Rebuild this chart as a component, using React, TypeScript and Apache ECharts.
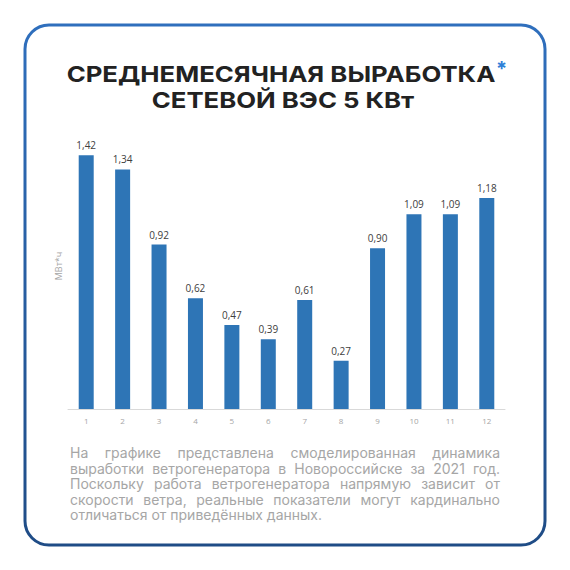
import { useEffect, useRef } from 'react';
import * as echarts from 'echarts';

const months = ['1', '2', '3', '4', '5', '6', '7', '8', '9', '10', '11', '12'];
const output = [1.42, 1.34, 0.92, 0.62, 0.47, 0.39, 0.61, 0.27, 0.9, 1.09, 1.09, 1.18];
const titleLines = ['СРЕДНЕМЕСЯЧНАЯ ВЫРАБОТКА', 'СЕТЕВОЙ ВЭС 5 КВт'];
const unitLabel = 'МВт*ч';
const noteLines = [
  'На графике представлена смоделированная динамика',
  'выработки ветрогенератора в Новороссийске за 2021 год.',
  'Поскольку работа ветрогенератора напрямую зависит от',
  'скорости ветра, реальные показатели могут кардинально',
  'отличаться от приведённых данных.'
];

export default function App() {
  const chartRef = useRef<HTMLDivElement>(null);

  useEffect(() => {
    if (!chartRef.current) return;
    const chart = echarts.init(chartRef.current, null, { renderer: 'svg' });

    const option: echarts.EChartsOption = {
      animation: false,
      backgroundColor: '#ffffff',
      graphic: [
        {
          type: 'rect',
          shape: { x: 25, y: 25, width: 520, height: 520, r: 24 },
          style: {
            fill: 'none',
            lineWidth: 3,
            stroke: new echarts.graphic.LinearGradient(0, 0, 0, 1, [
              { offset: 0, color: '#2f6fbd' },
              { offset: 1, color: '#1f4c86' }
            ])
          }
        },
        {
          type: 'text',
          x: 281,
          y: 74,
          scaleX: 1.17,
          style: {
            text: titleLines[0],
            align: 'center',
            verticalAlign: 'middle',
            fontFamily: 'Inter',
            fontWeight: 700,
            fontSize: 22,
            fill: '#222222'
          }
        },
        {
          type: 'text',
          x: 496,
          y: 69,
          style: {
            text: '*',
            align: 'left',
            verticalAlign: 'middle',
            fontFamily: 'Inter',
            fontWeight: 700,
            fontSize: 20,
            fill: '#2f7fd8'
          }
        },
        {
          type: 'text',
          x: 283,
          y: 100,
          scaleX: 1.17,
          style: {
            text: titleLines[1],
            align: 'center',
            verticalAlign: 'middle',
            fontFamily: 'Inter',
            fontWeight: 700,
            fontSize: 22,
            fill: '#222222'
          }
        }
      ],
      grid: { left: 68, right: 65, top: 123, bottom: 161 },
      xAxis: {
        type: 'category',
        data: months,
        axisLine: { lineStyle: { color: '#d9d9d9' } },
        axisTick: { show: false },
        axisLabel: { color: '#a6a6a6', fontSize: 8, fontFamily: 'Open Sans', margin: 7 }
      },
      yAxis: {
        type: 'value',
        min: 0,
        max: 1.6,
        name: unitLabel,
        nameLocation: 'middle',
        nameGap: 5,
        nameTextStyle: { color: '#a6a6a6', fontSize: 9, fontFamily: 'Open Sans' },
        axisLine: { show: false },
        axisTick: { show: false },
        axisLabel: { show: false },
        splitLine: { show: false }
      },
      series: [
        {
          type: 'bar',
          data: output,
          barWidth: 15,
          itemStyle: { color: '#2e75b6' },
          label: {
            show: true,
            position: 'top',
            distance: 5,
            color: '#404040',
            fontSize: 10,
            fontFamily: 'Open Sans',
            formatter: (p: any) => Number(p.value).toFixed(2).replace('.', ',')
          }
        }
      ]
    };

    chart.setOption(option);
    return () => chart.dispose();
  }, []);

  return (
    <div style={{ position: 'absolute', left: 0, top: 0, width: 570, height: 570 }}>
      <div ref={chartRef} style={{ width: 570, height: 570 }} />
      <div
        style={{
          position: 'absolute',
          left: 70,
          top: 445,
          width: 430,
          fontFamily: 'Inter',
          fontSize: 14,
          lineHeight: '15.6px',
          color: '#a6a6a6'
        }}
      >
        {noteLines.map((line, i) => (
          <div
            key={i}
            style={{
              textAlign: i < noteLines.length - 1 ? 'justify' : 'left',
              textAlignLast: i < noteLines.length - 1 ? 'justify' : 'left',
              whiteSpace: 'nowrap'
            }}
          >
            {line}
          </div>
        ))}
      </div>
    </div>
  );
}
